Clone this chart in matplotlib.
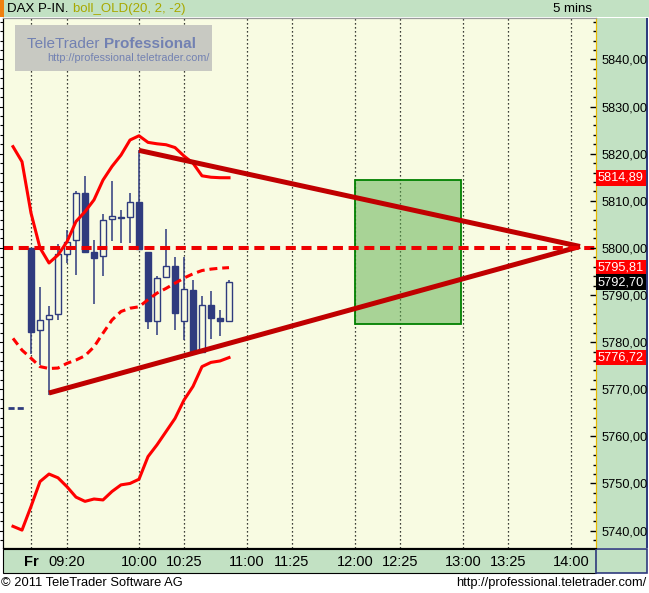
import numpy as np
import matplotlib
matplotlib.use('Agg')
import matplotlib.pyplot as plt
from matplotlib.patches import Rectangle
from matplotlib.ticker import MultipleLocator, FuncFormatter

plt.rcParams['font.family'] = ['Liberation Sans', 'DejaVu Sans']

# 5 minute bars, Friday 09:00 .. 10:50
bar_times = ['09:00', '09:05', '09:10', '09:15', '09:20', '09:25', '09:30', '09:35',
             '09:40', '09:45', '09:50', '09:55', '10:00', '10:05', '10:10', '10:15',
             '10:20', '10:25', '10:30', '10:35', '10:40', '10:45', '10:50']
opens = [5800.0, 5782.6, 5784.9, 5785.9, 5798.7, 5801.7, 5811.7, 5799.2, 5798.2, 5806.1,
         5806.5, 5806.5, 5809.8, 5799.2, 5784.4, 5793.8, 5796.2, 5784.4, 5791.0, 5778.0,
         5787.9, 5785.1, 5784.4]
highs = [5800.0, 5791.8, 5787.7, 5800.8, 5803.8, 5812.0, 5815.3, 5801.7, 5807.2, 5814.1,
         5808.1, 5811.7, 5820.7, 5799.2, 5794.1, 5804.0, 5798.0, 5798.0, 5793.2, 5789.8,
         5790.9, 5786.8, 5793.2]
lows = [5777.5, 5775.2, 5768.8, 5784.6, 5796.9, 5794.3, 5799.2, 5788.1, 5794.1, 5801.5,
        5801.1, 5801.1, 5799.7, 5782.8, 5781.6, 5793.8, 5782.6, 5780.5, 5778.0, 5778.0,
        5780.6, 5781.2, 5784.4]
closes = [5782.1, 5784.6, 5785.7, 5798.7, 5801.3, 5811.7, 5799.2, 5797.8, 5805.9, 5806.8,
          5806.3, 5809.8, 5799.7, 5784.4, 5793.6, 5796.2, 5786.1, 5791.2, 5778.0, 5787.9,
          5785.1, 5784.4, 5792.7]

# bollinger bands (20, 2, -2), start two bars before the open
band_start = -2
boll_upper = [5821.5, 5818.3, 5807.4, 5800.0, 5796.8, 5798.5, 5801.3, 5805.6, 5807.7, 5810.2,
              5814.4, 5817.3, 5819.7, 5822.9, 5823.8, 5822.4, 5822.1, 5821.9, 5821.3, 5819.5,
              5818.0, 5815.3, 5815.0, 5814.9, 5814.89]
boll_mid = [5780.8, 5778.3, 5776.6, 5774.8, 5774.4, 5774.5, 5775.5, 5776.2, 5777.1, 5779.0,
            5781.9, 5784.7, 5786.5, 5787.2, 5787.5, 5789.0, 5790.4, 5791.4, 5792.5, 5793.6,
            5794.5, 5795.2, 5795.5, 5795.7, 5795.81]
boll_lower = [5740.9, 5740.1, 5745.1, 5750.4, 5752.0, 5751.2, 5749.3, 5747.1, 5746.2, 5746.7,
              5746.5, 5748.3, 5749.7, 5750.0, 5750.9, 5755.7, 5758.2, 5761.0, 5763.8, 5767.7,
              5770.6, 5774.8, 5775.7, 5776.0, 5776.72]
prev_close = 5766.1

# drawings
tri_upper = [('10:00', 5820.7), ('14:05', 5800.3)]
tri_lower = [('09:10', 5769.2), ('14:05', 5800.3)]
level = 5800.0
box_t0, box_t1 = '12:00', '12:59'
box_lo, box_hi = 5783.8, 5814.4

tick_times = ['09:00', '09:20', '10:00', '10:25', '11:00', '11:25', '12:00', '12:25',
              '13:00', '13:25', '14:00']
tick_labels = ['Fr', '09:20', '10:00', '10:25', '11:00', '11:25', '12:00', '12:25',
               '13:00', '13:25', '14:00']
last_values = [(5814.89, 'red'), (5795.81, 'red'), (5792.70, 'black'), (5776.72, 'red')]


def bar_index(t):
    h, m = t.split(':')
    return (int(h) * 60 + int(m) - 540) / 5.0


W, H = 649, 593
bg = '#f8fbe2'
green = '#c2e1c3'
navy = '#2f3b7e'

fig = plt.figure(figsize=(W / 100, H / 100), dpi=100)
fig.patch.set_facecolor('white')

# frame pieces
fig.add_artist(Rectangle((0, 1 - 17 / H), 1, 17 / H, facecolor=green, edgecolor='none',
                         transform=fig.transFigure, zorder=-2))
fig.add_artist(Rectangle((0, 1 - 17 / H), 4 / W, 17 / H, facecolor='#f08010', edgecolor='none',
                         transform=fig.transFigure, zorder=-1))
fig.add_artist(Rectangle((596 / W, 1 - 548 / H), 51 / W, 530 / H, facecolor=green,
                         edgecolor='none', transform=fig.transFigure, zorder=-1))
fig.add_artist(Rectangle((3 / W, 1 - 573 / H), 593 / W, 24 / H, facecolor=green,
                         edgecolor='black', lw=0.8, transform=fig.transFigure, zorder=-1))
fig.add_artist(Rectangle((596 / W, 1 - 573 / H), 51 / W, 24 / H, facecolor=green,
                         edgecolor=navy, lw=1.2, transform=fig.transFigure, zorder=-1))
fig.add_artist(Rectangle((646 / W, 1 - 548 / H), 2 / W, 530 / H, facecolor=navy,
                         edgecolor='none', transform=fig.transFigure, zorder=-1))

ax = fig.add_axes([3 / W, 1 - 548 / H, 593 / W, 530 / H])
ax.set_facecolor(bg)
ax.set_xlim((3 - 31) / 9.0, (596 - 31) / 9.0)
ax.set_ylim(5736.3, 5848.8)

# grid
for t in tick_times:
    ax.axvline(bar_index(t), color='black', lw=0.9, linestyle=(0, (1, 2.2)), zorder=1)

# green box
x0, x1 = bar_index(box_t0), bar_index(box_t1)
ax.add_patch(Rectangle((x0, box_lo), x1 - x0, box_hi - box_lo, facecolor='#5aad4c',
                       alpha=0.5, edgecolor='none', zorder=2))
ax.add_patch(Rectangle((x0, box_lo), x1 - x0, box_hi - box_lo, facecolor='none',
                       edgecolor='#008000', lw=1.3, zorder=2.1))

# candles
for i, t in enumerate(bar_times):
    x = bar_index(t)
    ax.plot([x, x], [lows[i], highs[i]], color=navy, lw=1.1, solid_capstyle='butt', zorder=3)
    lower = min(opens[i], closes[i])
    height = max(abs(closes[i] - opens[i]), 0.15)
    face = bg if closes[i] > opens[i] else navy
    ax.add_patch(Rectangle((x - 0.36, lower), 0.72, height, facecolor=face,
                           edgecolor=navy, lw=1.0, zorder=3.5))

# previous close marker
ax.plot([-2.55, -0.75], [prev_close, prev_close], color=navy, lw=2,
        dashes=[2.2, 1.1], solid_capstyle='butt', zorder=3)

# bands
bx = np.arange(band_start, band_start + len(boll_upper))
ax.plot(bx, boll_upper, color='#ff0000', lw=2.2, zorder=4)
ax.plot(bx, boll_lower, color='#ff0000', lw=2.2, zorder=4)
ax.plot(bx, boll_mid, color='#ff0000', lw=2.2, dashes=[2.6, 1.6], zorder=4)

# triangle
for seg in (tri_upper, tri_lower):
    ax.plot([bar_index(seg[0][0]), bar_index(seg[1][0])], [seg[0][1], seg[1][1]],
            color='#c00000', lw=3.6, solid_capstyle='butt', zorder=5)

ax.axhline(level, color='#ee0000', lw=2.9, dashes=[2.5, 1.4], zorder=5)

# ticks
ax.set_xticks([bar_index(t) for t in tick_times])
ax.set_xticklabels(tick_labels, fontsize=10.5)
ax.get_xticklabels()[0].set_fontweight('bold')
ax.tick_params(axis='x', length=0, pad=5)
ax.yaxis.set_major_locator(MultipleLocator(10))
ax.yaxis.set_minor_locator(MultipleLocator(2))
ax.tick_params(axis='y', which='both', direction='out', left=True, labelleft=False)
ax.tick_params(axis='y', which='major', length=3, width=0.8)
ax.tick_params(axis='y', which='minor', length=2, width=0.8)

ax2 = ax.twinx()
ax2.set_ylim(ax.get_ylim())
ax2.yaxis.set_major_locator(MultipleLocator(10))
ax2.yaxis.set_minor_locator(MultipleLocator(2))
ax2.yaxis.set_major_formatter(FuncFormatter(lambda v, p: ('%.2f' % v).replace('.', ',')))
ax2.tick_params(axis='y', which='both', direction='in', width=1.0)
ax2.tick_params(axis='y', which='major', length=4.5, labelsize=9.2, pad=4)
ax2.tick_params(axis='y', which='minor', length=2.2)

# spines
for a in (ax, ax2):
    a.spines['right'].set_color('#e8b800')
    a.spines['top'].set_color('#9a9a9a')
    a.spines['left'].set_color('black')
    a.spines['bottom'].set_color('black')
    a.spines['top'].set_linewidth(0.8)

# last values on right scale
for v, c in last_values:
    ax2.text(1.0 + 2 / 593, v, ('%.2f' % v).replace('.', ','), transform=ax2.get_yaxis_transform(),
             ha='left', va='center', fontsize=9.2, color='white', clip_on=False, zorder=10,
             bbox=dict(boxstyle='square,pad=0.15', facecolor=c, edgecolor='none'))

# watermark
fig.add_artist(Rectangle((15 / W, 1 - 71 / H), 197 / W, 46 / H, facecolor='#c8c9c2',
                         edgecolor='none', transform=fig.transFigure, zorder=6))
r = fig.canvas.get_renderer()
t1 = fig.text(27 / W, 1 - 48 / H, 'TeleTrader ', fontsize=11, color='#7281b2',
              va='baseline', zorder=7)
w1 = t1.get_window_extent(renderer=r).width
fig.text((27 + w1) / W, 1 - 48 / H, 'Professional', fontsize=11, color='#7281b2',
         fontweight='bold', va='baseline', zorder=7)
fig.text(47 / W, 1 - 58 / H, 'http://professional.teletrader.com/', fontsize=7.8,
         color='#7281b2', va='center', zorder=7)

# header / footer
fig.text(7 / W, 1 - 9 / H, 'DAX P-IN.', fontsize=9.5, color='black', va='center')
fig.text(73 / W, 1 - 9 / H, 'boll_OLD(20, 2, -2)', fontsize=9.5, color='#a8a800', va='center')
fig.text(592 / W, 1 - 9 / H, '5 mins', fontsize=9.5, color='black', va='center', ha='right')
fig.text(1 / W, 1 - 583 / H, '\u00a9 2011 TeleTrader Software AG', fontsize=9.3, va='center')
fig.text(646 / W, 1 - 583 / H, 'http://professional.teletrader.com/', fontsize=9.3,
         va='center', ha='right')

fig.savefig('out.png', dpi=100, facecolor='white')
